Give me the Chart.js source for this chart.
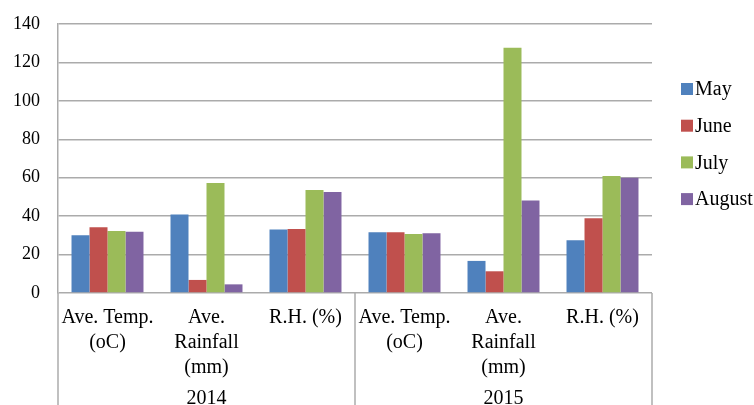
<!DOCTYPE html>
<html>
<head>
<meta charset="utf-8">
<script src="https://cdn.jsdelivr.net/npm/chart.js@4"></script>
<style>
  html, body { margin: 0; padding: 0; background: #ffffff; }
  #wrap { width: 754px; height: 405px; }
</style>
</head>
<body>
<div id="wrap"><canvas id="c" width="754" height="405"></canvas></div>
<script>
// Weather parameters per year (category axis) and monthly values
const categories = [
  ["Ave. Temp.", "(oC)"], ["Ave.", "Rainfall", "(mm)"], "R.H. (%)",
  ["Ave. Temp.", "(oC)"], ["Ave.", "Rainfall", "(mm)"], "R.H. (%)"
];
const years = ["2014", "2015"];
const seriesNames = ["May", "June", "July", "August"];
const may    = [30.0, 40.9, 33.0, 31.6, 16.7, 27.4];
const june   = [34.2,  6.8, 33.3, 31.6, 11.3, 38.9];
const july   = [32.3, 57.3, 53.6, 30.7, 127.7, 60.9];
const august = [31.9,  4.5, 52.6, 31.1, 48.2, 60.0];
const yTicks = [0, 20, 40, 60, 80, 100, 120, 140];

const colors = ["#4F81BD", "#C0504D", "#9BBB59", "#8064A2"];
const serif = '"Liberation Serif", "Times New Roman", serif';
const gridColor = "#ababab";

// Vertical separators below the axis: left edge, between the two years, right edge
const dividers = {
  id: "dividers",
  afterDraw(chart) {
    const { ctx, chartArea, scales } = chart;
    const x = scales.x;
    const mid = (x.getPixelForValue(2) + x.getPixelForValue(3)) / 2;
    ctx.save();
    ctx.strokeStyle = gridColor;
    ctx.lineWidth = 1.5;
    [x.left, mid, x.right].forEach(px => {
      ctx.beginPath();
      ctx.moveTo(px, chartArea.bottom);
      ctx.lineTo(px, chart.height);
      ctx.stroke();
    });
    ctx.restore();
  }
};

// Legend column on the right
const sideLegend = {
  id: "sideLegend",
  afterDraw(chart) {
    const { ctx } = chart;
    ctx.save();
    ctx.font = "20px " + serif;
    ctx.textBaseline = "middle";
    ctx.textAlign = "left";
    chart.data.datasets.forEach((ds, i) => {
      const cy = 89 + i * 36.7;
      ctx.fillStyle = ds.backgroundColor;
      ctx.fillRect(681, cy - 6, 12, 12);
      ctx.fillStyle = "#000";
      ctx.fillText(ds.label, 695, cy + 1);
    });
    ctx.restore();
  }
};

new Chart(document.getElementById("c"), {
  type: "bar",
  data: {
    labels: categories,
    datasets: [may, june, july, august].map((d, i) => ({
      label: seriesNames[i],
      data: d,
      backgroundColor: colors[i],
      borderWidth: 0,
      categoryPercentage: 0.727,
      barPercentage: 1.0
    }))
  },
  options: {
    responsive: false,
    devicePixelRatio: 1,
    animation: false,
    layout: { padding: { top: 24, right: 102, left: 0, bottom: 0 } },
    plugins: { legend: { display: false }, tooltip: { enabled: false } },
    scales: {
      x: {
        offset: true,
        grid: { display: false, drawTicks: false },
        border: { display: false },
        ticks: {
          font: { family: serif, size: 20, lineHeight: 1.25 },
          color: "#000",
          padding: 12,
          maxRotation: 0,
          autoSkip: false
        },
        afterFit(s) { s.height = 90; }
      },
      x2: {
        type: "category",
        labels: years,
        position: "bottom",
        offset: true,
        grid: { display: false, drawTicks: false },
        border: { display: false },
        ticks: {
          font: { family: serif, size: 20, lineHeight: 1.25 },
          color: "#000",
          padding: 3,
          maxRotation: 0
        },
        afterFit(s) { s.height = 22; }
      },
      y: {
        min: 0,
        max: 140,
        afterBuildTicks(s) { s.ticks = yTicks.map(v => ({ value: v })); },
        ticks: {
          font: { family: serif, size: 18 },
          color: "#000",
          padding: 18
        },
        grid: { color: gridColor, lineWidth: 1.5, drawTicks: false },
        border: { display: true, color: gridColor, width: 1.5 },
        afterFit(s) {
          s.width = 58;
          s.paddingTop = 11;
          s.paddingBottom = 11;
        }
      }
    }
  },
  plugins: [dividers, sideLegend]
});
</script>
</body>
</html>
